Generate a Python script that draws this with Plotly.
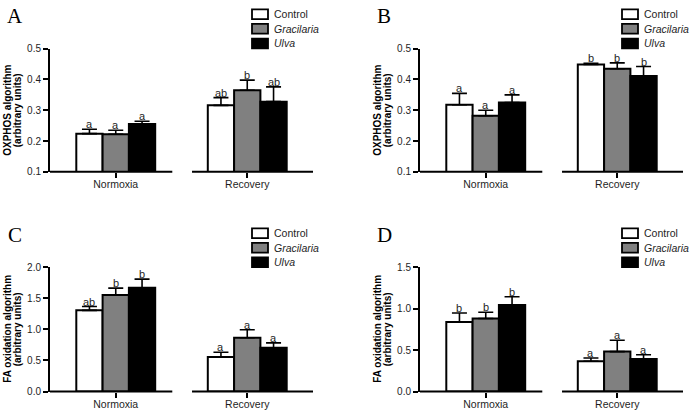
import plotly.graph_objects as go

# ---------------- data ----------------
CONDITIONS = ["Normoxia", "Recovery"]
SERIES = ["Control", "Gracilaria", "Ulva"]
SERIES_LABELS = ["Control", "<i>Gracilaria</i>", "<i>Ulva</i>"]
COLORS = ["#ffffff", "#808080", "#000000"]

# Panel A - OXPHOS
A_CONTROL = [0.224, 0.316]
A_CONTROL_SEM = [0.014, 0.025]
A_GRACILARIA = [0.222, 0.365]
A_GRACILARIA_SEM = [0.013, 0.033]
A_ULVA = [0.255, 0.328]
A_ULVA_SEM = [0.009, 0.048]
A_LETTERS = [["a", "ab"], ["a", "b"], ["a", "ab"]]

# Panel B - OXPHOS
B_CONTROL = [0.318, 0.449]
B_CONTROL_SEM = [0.037, 0.004]
B_GRACILARIA = [0.282, 0.435]
B_GRACILARIA_SEM = [0.018, 0.019]
B_ULVA = [0.325, 0.411]
B_ULVA_SEM = [0.025, 0.031]
B_LETTERS = [["a", "b"], ["a", "b"], ["a", "b"]]

# Panel C - FA oxidation
C_CONTROL = [1.306, 0.554]
C_CONTROL_SEM = [0.062, 0.078]
C_GRACILARIA = [1.554, 0.865]
C_GRACILARIA_SEM = [0.109, 0.130]
C_ULVA = [1.668, 0.705]
C_ULVA_SEM = [0.140, 0.077]
C_LETTERS = [["ab", "a"], ["b", "a"], ["b", "a"]]

# Panel D - FA oxidation
D_CONTROL = [0.839, 0.365]
D_CONTROL_SEM = [0.109, 0.039]
D_GRACILARIA = [0.882, 0.482]
D_GRACILARIA_SEM = [0.074, 0.136]
D_ULVA = [1.045, 0.393]
D_ULVA_SEM = [0.098, 0.050]
D_LETTERS = [["b", "a"], ["b", "a"], ["b", "a"]]

OXPHOS_TITLE = ["OXPHOS algorithm", "(arbitrary units)"]
FA_TITLE = ["FA oxidation algorithm", "(arbitrary units)"]

PANELS = [
    dict(letter="A", means=[A_CONTROL, A_GRACILARIA, A_ULVA],
         sems=[A_CONTROL_SEM, A_GRACILARIA_SEM, A_ULVA_SEM], letters=A_LETTERS,
         yrange=[0.1, 0.5], dtick=0.1, ytitle=OXPHOS_TITLE),
    dict(letter="B", means=[B_CONTROL, B_GRACILARIA, B_ULVA],
         sems=[B_CONTROL_SEM, B_GRACILARIA_SEM, B_ULVA_SEM], letters=B_LETTERS,
         yrange=[0.1, 0.5], dtick=0.1, ytitle=OXPHOS_TITLE),
    dict(letter="C", means=[C_CONTROL, C_GRACILARIA, C_ULVA],
         sems=[C_CONTROL_SEM, C_GRACILARIA_SEM, C_ULVA_SEM], letters=C_LETTERS,
         yrange=[0.0, 2.0], dtick=0.5, ytitle=FA_TITLE),
    dict(letter="D", means=[D_CONTROL, D_GRACILARIA, D_ULVA],
         sems=[D_CONTROL_SEM, D_GRACILARIA_SEM, D_ULVA_SEM], letters=D_LETTERS,
         yrange=[0.0, 1.5], dtick=0.5, ytitle=FA_TITLE),
]

# ---------------- layout geometry (page pixels) ----------------
W, H = 691, 415
FONT = "Liberation Sans, Arial, sans-serif"
SERIF = "Liberation Serif, Times New Roman, serif"
TEXT = "#1e1e1e"
XRANGE = [-0.5, 1.5]
BAR_W = 0.2
SEGMENTS = [(-0.5, 0.43), (0.58, 1.5)]


def px(x):
    return x / W


def py(y):
    return 1 - y / H


X_DOMAINS = [(px(50), px(313)), (px(420), px(683))]
Y_DOMAINS = [(py(170.7), py(44)), (py(397), py(269))]

fig = go.Figure()
layout = dict(
    width=W, height=H,
    margin=dict(l=0, r=0, t=0, b=0),
    paper_bgcolor="white", plot_bgcolor="white",
    barmode="group", bargap=0.4, bargroupgap=0,
    showlegend=False,
    font=dict(family=FONT, color=TEXT),
)
annotations = []
shapes = []

for p, panel in enumerate(PANELS):
    col, row = p % 2, p // 2
    n = "" if p == 0 else str(p + 1)
    xa, ya = "x" + n, "y" + n
    xd, yd = X_DOMAINS[col], Y_DOMAINS[row]

    for j, name in enumerate(SERIES):
        fig.add_trace(go.Bar(
            x=list(range(len(CONDITIONS))), y=panel["means"][j],
            name=name,
            marker=dict(color=COLORS[j], line=dict(color="black", width=2)),
            error_y=dict(type="data", array=panel["sems"][j],
                         arrayminus=[0] * len(CONDITIONS), symmetric=False,
                         color="black", thickness=1.6, width=7.5),
            xaxis=xa, yaxis=ya, offsetgroup=str(j),
        ))
        # significance letters above error bars
        for i in range(len(CONDITIONS)):
            annotations.append(dict(
                x=i + (j - 1) * BAR_W, y=panel["means"][j][i] + panel["sems"][j][i],
                xref=xa, yref=ya, text=panel["letters"][j][i], showarrow=False,
                yanchor="bottom", yshift=-3, font=dict(size=11, color=TEXT),
            ))

    layout["xaxis" + n] = dict(
        domain=list(xd), anchor=ya, range=XRANGE,
        tickvals=list(range(len(CONDITIONS))), ticktext=CONDITIONS,
        ticks="outside", ticklen=5, tickwidth=1.5, tickcolor="black",
        ticklabelstandoff=-2,
        showline=False, showgrid=False, zeroline=False,
        tickfont=dict(size=10.5, color=TEXT),
    )
    layout["yaxis" + n] = dict(
        domain=list(yd), anchor=xa, range=panel["yrange"], dtick=panel["dtick"],
        tickformat=".1f", ticks="outside", ticklen=5, tickwidth=1.5,
        tickcolor="black", showline=True, linewidth=2, linecolor="black",
        showgrid=False, zeroline=False,
        tickfont=dict(size=10, color=TEXT),
    )

    # broken x axis segments (one per condition group)
    for s0, s1 in SEGMENTS:
        fx0 = xd[0] + (s0 - XRANGE[0]) / (XRANGE[1] - XRANGE[0]) * (xd[1] - xd[0])
        fx1 = xd[0] + (s1 - XRANGE[0]) / (XRANGE[1] - XRANGE[0]) * (xd[1] - xd[0])
        shapes.append(dict(type="line", xref="paper", yref="paper",
                           x0=fx0, x1=fx1, y0=yd[0], y1=yd[0],
                           line=dict(color="black", width=2)))

    left = col * 370
    top = row * 225.5

    # y-axis title (two tight lines, rotated)
    ymid = (yd[0] + yd[1]) / 2
    for k, line in enumerate(panel["ytitle"]):
        annotations.append(dict(
            x=px(left + 7.5 + 9.5 * k), y=ymid, xref="paper", yref="paper",
            text=line, textangle=-90, showarrow=False,
            xanchor="center", yanchor="middle",
            font=dict(size=10, color="black", weight="bold"),
        ))

    # panel letter
    annotations.append(dict(
        x=px(left + 14.5), y=py(top + 10), xref="paper", yref="paper",
        text=panel["letter"], showarrow=False, xanchor="center", yanchor="middle",
        font=dict(family=SERIF, size=21, color="black"),
    ))

    # legend
    for j, label in enumerate(SERIES_LABELS):
        bx, by = left + 252, top + 3.5 + 15 * j
        shapes.append(dict(type="rect", xref="paper", yref="paper",
                           x0=px(bx), x1=px(bx + 16), y0=py(by + 10), y1=py(by),
                           fillcolor=COLORS[j], line=dict(color="black", width=1.8)))
        annotations.append(dict(
            x=px(bx + 20), y=py(by + 5), xref="paper", yref="paper", text=label,
            showarrow=False, xanchor="left", yanchor="middle",
            font=dict(size=10.5, color=TEXT),
        ))

layout["annotations"] = annotations
layout["shapes"] = shapes
fig.update_layout(**layout)
fig.write_html("out.html",
               config={"displayModeBar": False},
               post_script="document.body.style.margin='0';document.body.style.overflow='hidden';")
